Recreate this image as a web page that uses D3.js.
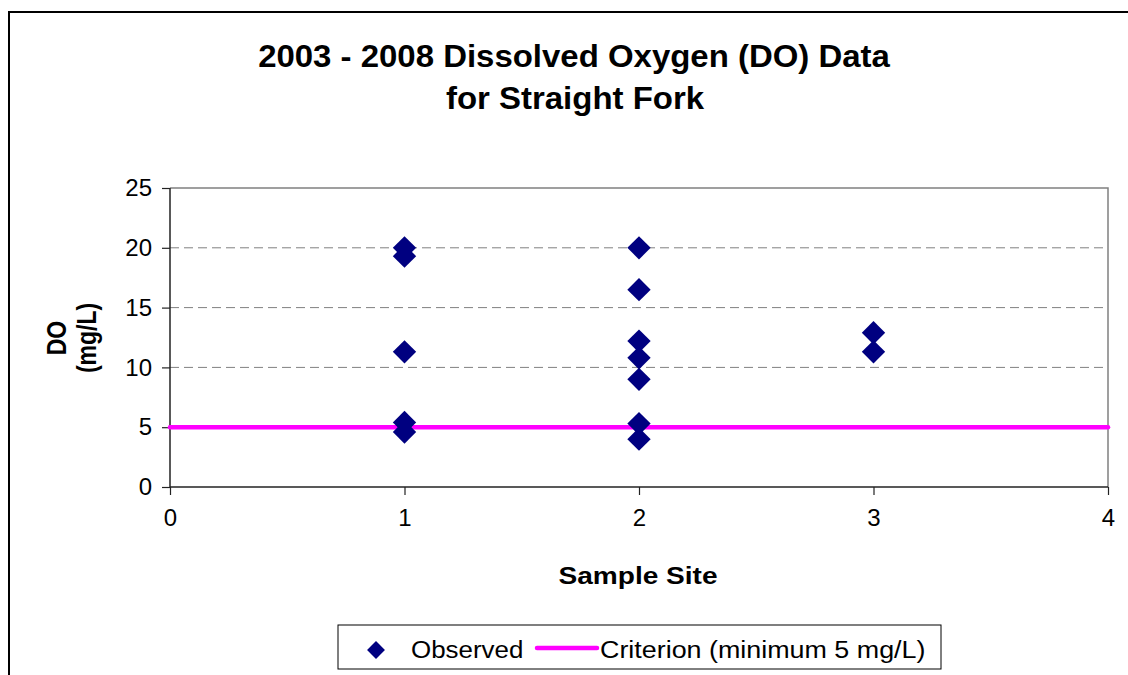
<!DOCTYPE html>
<html>
<head>
<meta charset="utf-8">
<script src="https://d3js.org/d3.v7.min.js"></script>
<style>
  body { margin: 0; background: white; }
  text { font-family: "Liberation Sans", Arial, sans-serif; fill: black; }
</style>
</head>
<body>
<svg id="chart" width="1128" height="675"></svg>
<script>
// observed DO readings, one entry per sample
var sites  = [1, 1, 1, 1, 1, 2, 2, 2, 2, 2, 2, 2, 3, 3];
var doVals = [20.0, 19.3, 11.3, 5.4, 4.6, 20.0, 16.5, 12.2, 10.8, 9.0, 5.3, 4.0, 12.9, 11.3];
// criterion line
var critX = [0, 4];
var critY = [5, 5];
var xTicks = [0, 1, 2, 3, 4];
var yTicks = [0, 5, 10, 15, 20, 25];

var svg = d3.select("#chart");

var pLeft = 170, pRight = 1108, pTop = 188, pBottom = 487;

var x = d3.scaleLinear().domain([0, 4]).range([pLeft, pRight]);
var y = d3.scaleLinear().domain([0, 25]).range([pBottom, pTop]);

// chart border (cropped on right / bottom)
svg.append("rect")
  .attr("x", 9).attr("y", 12)
  .attr("width", 1140).attr("height", 700)
  .attr("fill", "white").attr("stroke", "black").attr("stroke-width", 2);

// text helper, the original is a bit stretched sideways
function addText(px, py, sx, size, bold, anchor, str) {
  return svg.append("text")
    .attr("transform", "translate(" + px + "," + py + ") scale(" + sx + ",1)")
    .attr("text-anchor", anchor)
    .attr("font-weight", bold ? "bold" : "normal")
    .attr("font-size", size)
    .text(str);
}

// title
addText(574, 67, 1.03, 32, true, "middle", "2003 - 2008 Dissolved Oxygen (DO) Data");
addText(575, 109, 1.03, 32, true, "middle", "for Straight Fork");

// grid lines
svg.append("g").selectAll("line")
  .data(yTicks.filter(function(d) { return d > 0 && d < 25; }))
  .enter().append("line")
    .attr("x1", pLeft).attr("x2", pRight)
    .attr("y1", function(d) { return y(d); })
    .attr("y2", function(d) { return y(d); })
    .attr("stroke", "#808080")
    .attr("stroke-width", 1)
    .attr("stroke-dasharray", "9,5");

// plot border top / right
svg.append("path")
  .attr("d", "M" + pLeft + "," + pTop + "H" + pRight + "V" + pBottom)
  .attr("fill", "none")
  .attr("stroke", "#808080")
  .attr("stroke-width", 1.5);

// axes
var yAxis = d3.axisLeft(y).tickValues(yTicks).tickSize(8).tickPadding(10).tickFormat(d3.format("d"));
var xAxis = d3.axisBottom(x).tickValues(xTicks).tickSize(8).tickPadding(14).tickFormat(d3.format("d"));

var gy = svg.append("g").attr("transform", "translate(" + pLeft + ",0)").call(yAxis);
var gx = svg.append("g").attr("transform", "translate(0," + pBottom + ")").call(xAxis);

[gx, gy].forEach(function(g) {
  g.select(".domain").attr("stroke", "#222").attr("stroke-width", 1.5);
  g.selectAll(".tick line").attr("stroke", "#222").attr("stroke-width", 1.2);
  g.selectAll(".tick text")
    .attr("font-family", "Liberation Sans, Arial, sans-serif")
    .attr("font-size", 24)
    .attr("fill", "black");
});
gy.select(".domain").attr("d", "M0," + pTop + "V" + pBottom);
gx.select(".domain").attr("d", "M" + pLeft + ",0H" + pRight);

// criterion line
var line = d3.line()
  .x(function(d, i) { return x(critX[i]); })
  .y(function(d, i) { return y(critY[i]); });

svg.append("path")
  .datum(critX)
  .attr("d", line)
  .attr("fill", "none")
  .attr("stroke", "#ff00ff")
  .attr("stroke-width", 4.5)
  .attr("stroke-linecap", "round");

// diamonds
var diamond = d3.symbol().type(d3.symbolSquare).size(272);
svg.append("g").selectAll("path")
  .data(doVals)
  .enter().append("path")
    .attr("d", diamond)
    .attr("transform", function(d, i) {
      return "translate(" + x(sites[i]) + "," + y(d) + ") rotate(45)";
    })
    .attr("fill", "#000080");

// axis titles
addText(638, 584, 1.17, 24, true, "middle", "Sample Site");

var ylab = svg.append("text")
  .attr("transform", "translate(0,338) rotate(-90) scale(1,1.2)")
  .attr("text-anchor", "middle")
  .attr("font-weight", "bold")
  .attr("font-size", 23);
ylab.append("tspan").attr("x", 0).attr("y", 55).text("DO");
ylab.append("tspan").attr("x", 0).attr("y", 80).text("(mg/L)");

// legend
var lg = svg.append("g");
lg.append("rect")
  .attr("x", 338).attr("y", 625)
  .attr("width", 603).attr("height", 44)
  .attr("fill", "white").attr("stroke", "black").attr("stroke-width", 1);
lg.append("path")
  .attr("d", d3.symbol().type(d3.symbolSquare).size(160))
  .attr("transform", "translate(376,650) rotate(45)")
  .attr("fill", "#000080");
addText(411, 658, 1.08, 24, false, "start", "Observed");
lg.append("line")
  .attr("x1", 537).attr("x2", 597)
  .attr("y1", 648).attr("y2", 648)
  .attr("stroke", "#ff00ff").attr("stroke-width", 4.5)
  .attr("stroke-linecap", "round");
addText(600, 658, 1.12, 24, false, "start", "Criterion (minimum 5 mg/L)");
</script>
</body>
</html>
